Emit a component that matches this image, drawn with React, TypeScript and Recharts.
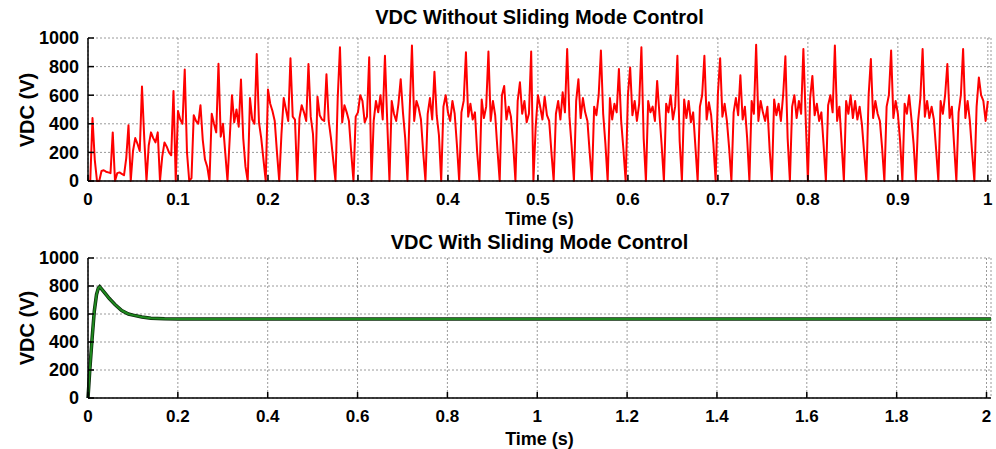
import React from 'react';
import { LineChart, Line, XAxis, YAxis, CartesianGrid } from 'recharts';

// ---- Data ----
const sampleStep = 0.0025; // s between samples of the unregulated VDC trace
const vdcWithout: number[] = [
  0, 0, 440, 150, 0, 0, 70, 75, 65, 60,
  55, 340, 0, 55, 60, 50, 40, 160, 390, 0,
  210, 300, 260, 210, 660, 300, 0, 250, 340, 300,
  270, 340, 0, 170, 270, 240, 200, 180, 630, 0,
  490, 430, 400, 780, 200, 0, 20, 460, 420, 400,
  530, 290, 150, 100, 0, 470, 400, 340, 820, 310,
  400, 200, 0, 300, 600, 410, 500, 380, 710, 300,
  100, 0, 580, 430, 400, 888, 410, 300, 150, 0,
  640, 540, 490, 420, 200, 0, 330, 580, 500, 420,
  858, 450, 430, 0, 440, 530, 480, 420, 818, 450,
  330, 0, 590, 460, 430, 420, 747, 420, 300, 150,
  0, 580, 935, 410, 530, 480, 420, 200, 0, 450,
  480, 600, 560, 410, 450, 865, 0, 420, 560, 480,
  600, 430, 876, 420, 0, 560, 470, 420, 540, 712,
  480, 300, 0, 500, 947, 420, 560, 510, 430, 200,
  0, 470, 580, 430, 764, 460, 320, 0, 520, 600,
  480, 420, 560, 470, 250, 0, 480, 560, 900, 450,
  540, 430, 480, 200, 0, 570, 440, 520, 905, 420,
  560, 460, 220, 0, 600, 665, 430, 520, 450, 260,
  0, 560, 690, 470, 560, 410, 470, 905, 0, 380,
  600, 520, 430, 590, 460, 420, 200, 0, 470, 560,
  430, 620, 480, 923, 450, 240, 0, 560, 712, 440,
  580, 480, 420, 200, 0, 520, 460, 600, 912, 470,
  260, 0, 580, 430, 540, 480, 783, 420, 220, 0,
  600, 794, 460, 560, 420, 540, 935, 300, 0, 560,
  480, 520, 420, 700, 470, 250, 0, 540, 480, 600,
  430, 520, 876, 280, 0, 570, 440, 560, 410, 480,
  240, 0, 520, 600, 876, 430, 550, 460, 260, 0,
  610, 858, 450, 540, 420, 230, 0, 480, 580, 460,
  740, 430, 520, 300, 0, 560, 470, 952, 420, 560,
  480, 420, 520, 220, 0, 570, 460, 540, 420, 600,
  872, 300, 0, 520, 600, 440, 560, 470, 923, 450,
  0, 580, 735, 460, 540, 420, 480, 250, 0, 530,
  600, 480, 947, 420, 520, 260, 0, 560, 470, 600,
  440, 560, 430, 520, 400, 200, 0, 600, 853, 440,
  560, 470, 420, 230, 0, 520, 600, 912, 440, 560,
  470, 280, 0, 540, 470, 600, 440, 260, 0, 420,
  580, 923, 450, 560, 440, 520, 430, 220, 0, 560,
  470, 600, 818, 440, 520, 250, 0, 480, 600, 923,
  440, 560, 420, 200, 0, 520, 724, 600, 560, 420,
  560,
];

const smcTime: number[] = [0, 0.004, 0.009, 0.014, 0.019, 0.023, 0.026, 0.03, 0.04, 0.047, 0.06, 0.075, 0.09, 0.1, 0.12, 0.14, 0.17, 0.2, 2.01];
const smcVdc: number[] = [0, 200, 420, 620, 740, 785, 795, 780, 740, 712, 668, 625, 600, 592, 578, 570, 566, 565, 565];

const topXTicks = [0, 0.1, 0.2, 0.3, 0.4, 0.5, 0.6, 0.7, 0.8, 0.9, 1];
const bottomXTicks = [0, 0.2, 0.4, 0.6, 0.8, 1, 1.2, 1.4, 1.6, 1.8, 2];
const yTicks = [0, 200, 400, 600, 800, 1000];

const topTitle = 'VDC Without Sliding Mode Control';
const bottomTitle = 'VDC With Sliding Mode Control';
const xLabel = 'Time (s)';
const yLabel = 'VDC (V)';

// ---- Build tables ----
const topData = vdcWithout.map((v, i) => ({ t: i * sampleStep, v }));
const bottomData = smcTime.map((t, i) => ({ t, v: smcVdc[i] }));

const FONT = '"Liberation Sans", Arial, sans-serif';
const tickStyle = { fill: '#000', fontSize: 17, fontWeight: 700, fontFamily: FONT };
const yTickStyle = { fill: '#000', fontSize: 18, fontWeight: 700, fontFamily: FONT };
const fmt = (v: number) => String(+v.toFixed(1));

interface PanelProps {
  data: { t: number; v: number }[];
  xTicks: number[];
  xMax: number;
  height: number;
  marginTop: number;
  xAxisHeight: number;
  stroke: string;
  strokeWidth: number;
  outline?: boolean;
}

function Panel({ data, xTicks, xMax, height, marginTop, xAxisHeight, stroke, strokeWidth, outline }: PanelProps) {
  return (
    <LineChart width={996} height={height} data={data} margin={{ top: marginTop, right: 5, bottom: 0, left: 28 }}>
      <CartesianGrid stroke="#9a9a9a" strokeDasharray="2 2" strokeWidth={1} />
      <XAxis
        xAxisId={0}
        type="number"
        dataKey="t"
        domain={[0, xMax]}
        ticks={xTicks}
        tickFormatter={fmt}
        height={xAxisHeight}
        tickSize={-6}
        tickMargin={18}
        tick={tickStyle}
        axisLine={{ stroke: '#000', strokeWidth: 1.5 }}
        tickLine={{ stroke: '#000', strokeWidth: 1.5 }}
        interval={0}
      />
      <XAxis
        xAxisId="top"
        orientation="top"
        type="number"
        dataKey="t"
        domain={[0, xMax]}
        ticks={xTicks}
        tickFormatter={() => ''}
        height={0}
        tickSize={-6}
        axisLine={{ stroke: '#000', strokeWidth: 1.5 }}
        tickLine={{ stroke: '#000', strokeWidth: 1.5 }}
        interval={0}
      />
      <YAxis
        yAxisId={0}
        domain={[0, 1000]}
        ticks={yTicks}
        width={60}
        tickSize={-6}
        tickMargin={15}
        tick={yTickStyle}
        axisLine={{ stroke: '#000', strokeWidth: 1.5 }}
        tickLine={{ stroke: '#000', strokeWidth: 1.5 }}
        interval={0}
      />
      <YAxis
        yAxisId="right"
        orientation="right"
        domain={[0, 1000]}
        ticks={yTicks}
        width={0}
        tickSize={-6}
        tickFormatter={() => ''}
        axisLine={{ stroke: '#000', strokeWidth: 1.5 }}
        tickLine={{ stroke: '#000', strokeWidth: 1.5 }}
        interval={0}
      />
      {outline && (
        <Line
          xAxisId={0}
          yAxisId={0}
          type="linear"
          dataKey="v"
          stroke="#0b2a0b"
          strokeWidth={strokeWidth + 1.5}
          dot={false}
          isAnimationActive={false}
        />
      )}
      <Line
        xAxisId={0}
        yAxisId={0}
        type="linear"
        dataKey="v"
        stroke={stroke}
        strokeWidth={strokeWidth}
        strokeLinejoin="round"
        dot={false}
        isAnimationActive={false}
      />
    </LineChart>
  );
}

const titleStyle: React.CSSProperties = {
  position: 'absolute',
  left: 88,
  width: 903,
  textAlign: 'center',
  fontFamily: FONT,
  fontWeight: 700,
  fontSize: 20,
  lineHeight: '20px',
  color: '#000',
  whiteSpace: 'nowrap',
};

const xLabelStyle: React.CSSProperties = {
  ...titleStyle,
  fontSize: 18,
  lineHeight: '18px',
};

const yLabelStyle: React.CSSProperties = {
  position: 'absolute',
  left: 27,
  transform: 'translate(-50%, -50%) rotate(-90deg)',
  fontFamily: FONT,
  fontWeight: 700,
  fontSize: 20,
  lineHeight: '20px',
  color: '#000',
  whiteSpace: 'nowrap',
};

export default function App() {
  return (
    <div style={{ position: 'absolute', left: 0, top: 0, width: 996, height: 449, background: '#fff', overflow: 'hidden' }}>
      <div style={{ position: 'absolute', left: 0, top: 0 }}>
        <Panel data={topData} xTicks={topXTicks} xMax={1.0035} height={225} marginTop={38} xAxisHeight={44} stroke="#ff0000" strokeWidth={2} />
      </div>
      <div style={{ position: 'absolute', left: 0, top: 225 }}>
        <Panel data={bottomData} xTicks={bottomXTicks} xMax={2.01} height={224} marginTop={33} xAxisHeight={51} stroke="#1f8a1f" strokeWidth={2} outline />
      </div>
      <div style={{ ...titleStyle, top: 7 }}>{topTitle}</div>
      <div style={{ ...titleStyle, top: 232 }}>{bottomTitle}</div>
      <div style={{ ...xLabelStyle, top: 210 }}>{xLabel}</div>
      <div style={{ ...xLabelStyle, top: 430 }}>{xLabel}</div>
      <div style={{ ...yLabelStyle, top: 110 }}>{yLabel}</div>
      <div style={{ ...yLabelStyle, top: 328 }}>{yLabel}</div>
    </div>
  );
}
